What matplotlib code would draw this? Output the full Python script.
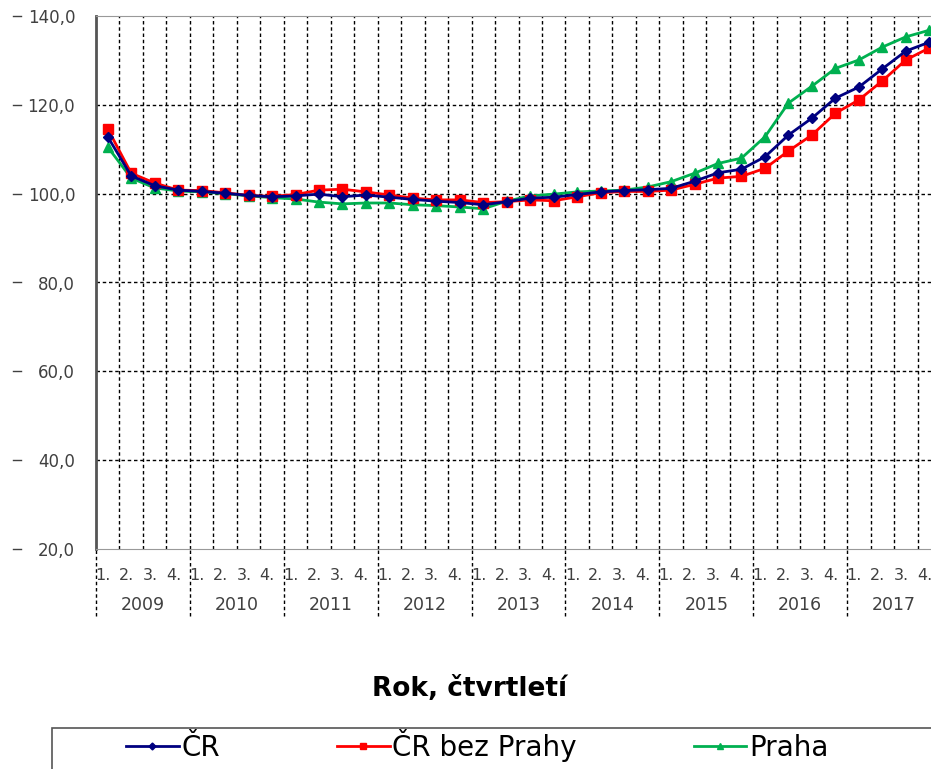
import matplotlib.pyplot as plt
from matplotlib.lines import Line2D
from matplotlib.patches import Rectangle
import matplotlib.transforms as mtransforms

# index values per quarter, 2009 Q1 .. 2017 Q4
years = ['2009', '2010', '2011', '2012', '2013', '2014', '2015', '2016', '2017']
quarters = ['1.', '2.', '3.', '4.']

cr = [112.8, 104.0, 101.8, 100.8,
      100.5, 100.1, 99.6, 99.3,
      99.5, 99.9, 99.3, 99.7,
      99.2, 98.7, 98.3, 98.0,
      97.5, 98.2, 99.0, 99.2,
      99.8, 100.4, 100.7, 100.9,
      101.2, 102.8, 104.7, 105.5,
      108.3, 113.2, 117.0, 121.5,
      124.0, 128.1, 132.1, 134.1]

cr_bez_prahy = [114.6, 104.6, 102.4, 100.8,
                100.7, 100.2, 99.6, 99.4,
                99.8, 100.8, 101.0, 100.4,
                99.7, 99.0, 98.6, 98.6,
                98.0, 98.2, 98.6, 98.4,
                99.3, 100.2, 100.5, 100.5,
                100.8, 102.1, 103.5, 103.9,
                105.7, 109.6, 113.2, 118.1,
                121.1, 125.4, 130.1, 132.8]

praha = [110.5, 103.5, 101.3, 100.6,
         100.4, 100.0, 99.5, 99.1,
         98.8, 98.1, 97.7, 97.9,
         97.9, 97.5, 97.3, 97.0,
         96.6, 98.3, 99.5, 99.9,
         100.4, 100.6, 100.8, 101.5,
         102.7, 104.6, 106.8, 108.0,
         112.8, 120.4, 124.2, 128.2,
         130.1, 133.0, 135.3, 136.8]

yticks = [20, 40, 60, 80, 100, 120, 140]

plt.rcParams['font.family'] = ['DejaVu Sans']

W, H = 931, 769
fig = plt.figure(figsize=(W / 100, H / 100), dpi=100)
fig.patch.set_facecolor('white')

# the plot area runs past the right edge like in the original crop
ax = fig.add_axes([96 / W, 1 - 549 / H, 845 / W, 533 / H])

n = len(cr)
x = [i + 0.5 for i in range(n)]

ax.plot(x, cr, color='#000080', lw=2, marker='D', ms=5, label='ČR', zorder=4)
ax.plot(x, cr_bez_prahy, color='#ff0000', lw=2, marker='s', ms=7, label='ČR bez Prahy', zorder=3)
ax.plot(x, praha, color='#00b050', lw=2, marker='^', ms=7, label='Praha', zorder=2)

ax.set_xlim(0, n)
ax.set_ylim(20, 140)

# grid
for v in yticks[1:-1]:
    ax.axhline(v, color='black', lw=1, ls=(0, (2.5, 2)), zorder=1)
for i in range(1, n):
    ax.axvline(i, color='black', lw=1, ls=(0, (2.5, 2)), zorder=1)

# year separators continue down through the labels
trans = mtransforms.blended_transform_factory(ax.transData, ax.transAxes)
for i in range(0, n + 1, 4):
    ax.add_line(Line2D([i, i], [-0.125, 0], transform=trans, color='black',
                       lw=1, ls=(0, (2.5, 2)), clip_on=False))

ax.spines['right'].set_visible(False)
ax.spines['left'].set_color('#555555')
ax.spines['left'].set_linewidth(2)
ax.spines['top'].set_color('#999999')
ax.spines['bottom'].set_color('#999999')

# y ticks
ax.set_yticks(yticks)
ax.set_yticklabels([f'{v:.1f}'.replace('.', ',') for v in yticks], fontsize=12, color='#404040')
ax.tick_params(axis='y', length=0, pad=15)
ytr = mtransforms.blended_transform_factory(fig.transFigure, ax.transData)
for v in yticks:
    ax.add_line(Line2D([13 / W, 21 / W], [v, v], transform=ytr, color='#404040',
                       lw=1, clip_on=False))

# quarter and year labels
ax.set_xticks([v - 0.2 for v in x])
ax.set_xticklabels(quarters * len(years), fontsize=11.5, color='#404040')
ax.tick_params(axis='x', length=0, pad=14)
for k, yr in enumerate(years):
    ax.text(4 * k + 2, -0.105, yr, transform=trans, ha='center', va='center',
            fontsize=12.5, color='#404040')

fig.text(470 / W, 1 - 689 / H, 'Rok, čtvrtletí', ha='center', va='center',
         fontsize=19, fontweight='bold')

# legend box
fig.patches.append(Rectangle((52 / W, -0.1), 1.0, 1 - 728 / H + 0.1,
                             transform=fig.transFigure, fill=False,
                             edgecolor='#555555', lw=1.2))
handles, labels = ax.get_legend_handles_labels()
fig.legend(handles, labels, loc='center left', ncol=3,
           bbox_to_anchor=(126 / W, 1 - 745 / H), frameon=False,
           fontsize=20, handlelength=1.9, handletextpad=0.1,
           columnspacing=4.2, borderpad=0, borderaxespad=0, markerscale=0.7)

fig.savefig('out.png', dpi=100)
